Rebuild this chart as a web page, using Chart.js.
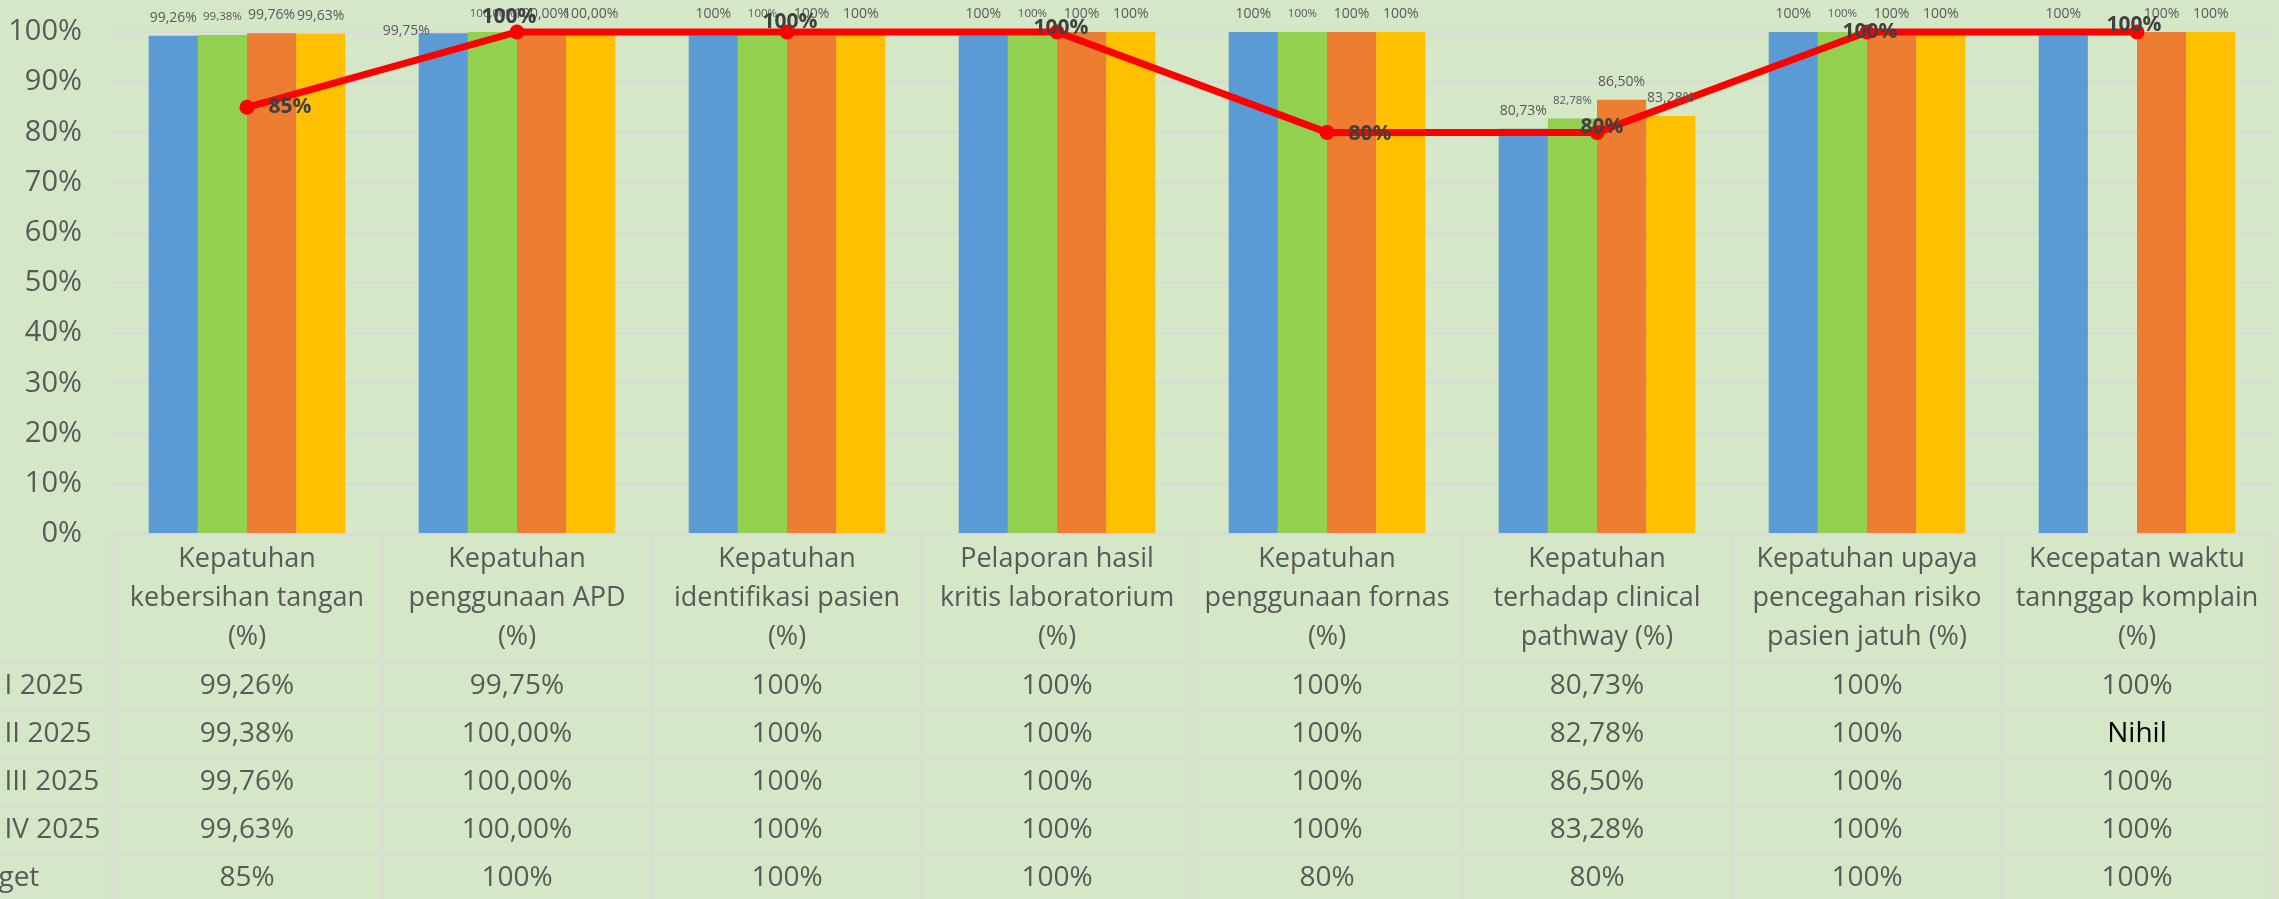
<!DOCTYPE html>
<html lang="id">
<head>
<meta charset="UTF-8">
<title>Indikator Mutu 2025</title>
<script src="https://cdn.jsdelivr.net/npm/chart.js@4.4.1/dist/chart.umd.min.js"></script>
<style>
  html, body { margin: 0; padding: 0; background: #D4E7C7; }
  #wrap { width: 2279px; height: 899px; position: relative; }
</style>
</head>
<body>
<div id="wrap"><canvas id="c"></canvas></div>
<script>
// kategori (judul kolom tabel, per baris teks)
const categories = [
  ['Kepatuhan', 'kebersihan tangan', '(%)'],
  ['Kepatuhan', 'penggunaan APD', '(%)'],
  ['Kepatuhan', 'identifikasi pasien', '(%)'],
  ['Pelaporan hasil', 'kritis laboratorium', '(%)'],
  ['Kepatuhan', 'penggunaan fornas', '(%)'],
  ['Kepatuhan', 'terhadap clinical', 'pathway (%)'],
  ['Kepatuhan upaya', 'pencegahan risiko', 'pasien jatuh (%)'],
  ['Kecepatan waktu', 'tannggap komplain', '(%)']
];

const seriesNames = ['TW I 2025', 'TW II 2025', 'TW III 2025', 'TW IV 2025', 'Target'];

const q1 = [99.26, 99.75, 100, 100, 100, 80.73, 100, 100];
const q2 = [99.38, 100, 100, 100, 100, 82.78, 100, null];
const q3 = [99.76, 100, 100, 100, 100, 86.50, 100, 100];
const q4 = [99.63, 100, 100, 100, 100, 83.28, 100, 100];
const target = [85, 100, 100, 100, 80, 80, 100, 100];

// teks label seperti di tabel data
const q1Text = ['99,26%', '99,75%', '100%', '100%', '100%', '80,73%', '100%', '100%'];
const q2Text = ['99,38%', '100,00%', '100%', '100%', '100%', '82,78%', '100%', 'Nihil'];
const q3Text = ['99,76%', '100,00%', '100%', '100%', '100%', '86,50%', '100%', '100%'];
const q4Text = ['99,63%', '100,00%', '100%', '100%', '100%', '83,28%', '100%', '100%'];
const targetText = ['85%', '100%', '100%', '100%', '80%', '80%', '100%', '100%'];

const yTicks = [0, 10, 20, 30, 40, 50, 60, 70, 80, 90, 100];

const barColors = ['#5B9BD5', '#92D050', '#ED7D31', '#FFC000'];
const textGrey = '#595959';
const gridGrey = '#D9D9D9';
const FONT = "'Open Sans', sans-serif";

const barValues = [q1, q2, q3, q4];
const barTexts = [q1Text, q2Text, q3Text, q4Text];
const rowTexts = [q1Text, q2Text, q3Text, q4Text, targetText];

// geser label garis target (Excel label dipindah manual)
const lineLabelShift = [[43, 0], [-8, -15], [3, -10], [4, -4], [43, 2], [5, -5], [3, 0], [-3, -7]];

const tablePlugin = {
  id: 'tablePlugin',
  beforeDraw(chart) {
    const ctx = chart.ctx;
    ctx.save();
    ctx.fillStyle = '#D4E7C7';
    ctx.fillRect(0, 0, chart.width, chart.height);
    ctx.restore();
  },
  afterDraw(chart) {
    const ctx = chart.ctx;
    const area = chart.chartArea;
    const n = categories.length;
    const cw = (area.right - area.left) / n;
    const top = area.bottom;
    const headerBottom = top + 128;
    const rowH = 48;

    ctx.save();
    ctx.strokeStyle = gridGrey;
    ctx.lineWidth = 2;
    // garis vertikal
    for (let k = 0; k <= n; k++) {
      const x = Math.round(area.left + k * cw);
      ctx.beginPath();
      ctx.moveTo(x, top);
      ctx.lineTo(x, chart.height);
      ctx.stroke();
    }
    // garis horizontal
    ctx.beginPath();
    ctx.moveTo(area.left, top);
    ctx.lineTo(area.right, top);
    ctx.stroke();
    for (let r = 0; r < rowTexts.length; r++) {
      const y = headerBottom + r * rowH;
      ctx.beginPath();
      ctx.moveTo(0, y);
      ctx.lineTo(area.right, y);
      ctx.stroke();
    }

    // judul kolom
    ctx.fillStyle = textGrey;
    ctx.textAlign = 'center';
    ctx.textBaseline = 'middle';
    ctx.font = '27px ' + FONT;
    const midY = (top + headerBottom) / 2;
    categories.forEach((lines, i) => {
      const cx = area.left + (i + 0.5) * cw;
      lines.forEach((t, j) => {
        ctx.fillText(t, cx, midY + (j - 1) * 39);
      });
    });

    // isi tabel
    ctx.font = '28px ' + FONT;
    rowTexts.forEach((row, r) => {
      const cy = headerBottom + r * rowH + rowH / 2;
      ctx.textAlign = 'left';
      ctx.fillStyle = textGrey;
      ctx.fillText(seriesNames[r], -44, cy);
      ctx.textAlign = 'center';
      row.forEach((t, i) => {
        const cx = area.left + (i + 0.5) * cw;
        ctx.fillStyle = t === 'Nihil' ? '#000000' : textGrey;
        ctx.fillText(t, cx, cy);
      });
    });
    ctx.restore();
  },
  afterDatasetsDraw(chart) {
    const ctx = chart.ctx;
    ctx.save();
    ctx.textAlign = 'center';
    ctx.textBaseline = 'middle';
    ctx.fillStyle = textGrey;
    // label batang
    for (let d = 0; d < 4; d++) {
      const meta = chart.getDatasetMeta(d + 1);
      ctx.font = (d === 1 ? '11.5px ' : '14px ') + FONT;
      meta.data.forEach((bar, i) => {
        if (barValues[d][i] == null) return;
        let x = bar.x, y = bar.y - 18;
        if (d === 0 && i === 1) { x -= 37; y += 16; }
        ctx.fillText(barTexts[d][i], x, y);
      });
    }
    ctx.restore();
  }
};

const lineLabelPlugin = {
  id: 'lineLabelPlugin',
  afterDraw(chart) {
    const ctx = chart.ctx;
    const meta = chart.getDatasetMeta(0);
    ctx.save();
    ctx.font = 'bold 21px ' + FONT;
    ctx.fillStyle = '#404040';
    ctx.textAlign = 'center';
    ctx.textBaseline = 'middle';
    meta.data.forEach((pt, i) => {
      ctx.fillText(targetText[i], pt.x + lineLabelShift[i][0], pt.y + lineLabelShift[i][1]);
    });
    ctx.restore();
  }
};

const datasets = [{
  type: 'line',
  label: seriesNames[4],
  data: target,
  borderColor: '#FF0000',
  backgroundColor: '#FF0000',
  borderWidth: 7,
  pointRadius: 7.5,
  pointBackgroundColor: '#FF0000',
  pointBorderWidth: 0,
  tension: 0,
  clip: false,
  order: 0
}];
barValues.forEach((vals, d) => {
  datasets.push({
    type: 'bar',
    label: seriesNames[d],
    data: vals,
    backgroundColor: barColors[d],
    borderWidth: 0,
    categoryPercentage: 0.728,
    barPercentage: 1.0,
    order: 1
  });
});

new Chart(document.getElementById('c'), {
  type: 'bar',
  data: {
    labels: categories.map(c => c.join(' ')),
    datasets: datasets
  },
  options: {
    responsive: true,
    maintainAspectRatio: false,
    animation: false,
    devicePixelRatio: 1,
    layout: { autoPadding: false, padding: { top: 32, bottom: 365, left: 0, right: 7 } },
    plugins: {
      legend: { display: false },
      tooltip: { enabled: false }
    },
    scales: {
      x: { display: false },
      y: {
        min: 0,
        max: 100,
        afterFit(scale) {
          scale.width = 112;
          // tick padding jangan ikut menambah ruang atas/bawah
          scale.paddingTop = 0;
          scale.paddingBottom = 0;
        },
        afterBuildTicks(scale) { scale.ticks = yTicks.map(v => ({ value: v })); },
        border: { display: false },
        grid: { color: gridGrey, lineWidth: 2, drawTicks: false },
        ticks: {
          padding: 30,
          color: textGrey,
          font: { family: FONT, size: 29 },
          callback: v => v + '%'
        }
      }
    }
  },
  plugins: [tablePlugin, lineLabelPlugin]
});
</script>
</body>
</html>
